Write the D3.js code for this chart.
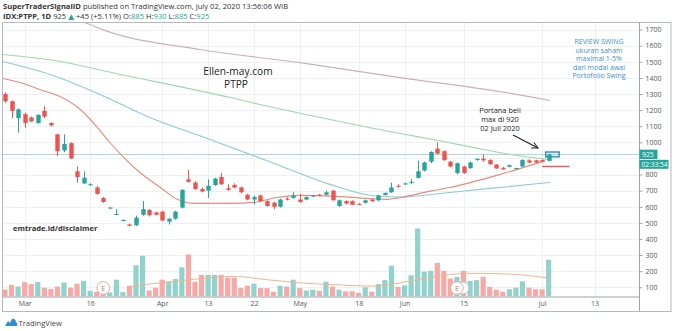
<!DOCTYPE html>
<html>
<head>
<meta charset="utf-8">
<script src="https://cdn.jsdelivr.net/npm/d3@7"></script>
<style>
  html, body { margin: 0; padding: 0; background: #fff; }
  svg { display: block; font-family: "Open Sans", "DejaVu Sans", sans-serif; }
</style>
</head>
<body>
<svg id="chart" width="675" height="331"></svg>
<script>
// ---- IDX:PTPP daily, 26 Feb – 2 Jul 2020 ----
const dates = [
  "Feb 26","Feb 27","Feb 28","Mar 2","Mar 3","Mar 4","Mar 5","Mar 6","Mar 9","Mar 10",
  "Mar 11","Mar 12","Mar 13","Mar 16","Mar 17","Mar 18","Mar 19","Mar 20","Mar 23","Mar 24",
  "Mar 26","Mar 27","Mar 30","Mar 31","Apr 1","Apr 2","Apr 3","Apr 6","Apr 7","Apr 8",
  "Apr 9","Apr 13","Apr 14","Apr 15","Apr 16","Apr 17","Apr 20","Apr 21","Apr 22","Apr 23",
  "Apr 24","Apr 27","Apr 28","Apr 29","Apr 30","May 4","May 5","May 6","May 8","May 11",
  "May 12","May 13","May 14","May 15","May 18","May 19","May 20","May 26","May 27","May 28",
  "May 29","Jun 2","Jun 3","Jun 4","Jun 5","Jun 8","Jun 9","Jun 10","Jun 11","Jun 12",
  "Jun 15","Jun 16","Jun 17","Jun 18","Jun 19","Jun 22","Jun 23","Jun 24","Jun 25","Jun 26",
  "Jun 29","Jun 30","Jul 1","Jul 2"
];
const opens  = [1300,1255,1150,1175,1155,1120,1195,1120,1050,950, 995,820,745,735,720,655,590,550,515,490,
                485,550,580,565,570,508,526,595,770,750, 710,700,735,785,715,735,720,675,645,670,
                635,625,600,650,655,645,645,665,675,675, 700,605,635,635,618,625,645,640,673,690,
                730,740,750,780,825,880,960,945,880,810, 850,840,890,898,890,862,842,848,836,850,
                888,888,890,885];
const highs  = [1310,1260,1210,1185,1160,1175,1225,1125,1050,1050, 1000,850,820,745,730,660,600,585,522,495,
                545,635,585,570,575,530,575,710,830,760, 720,770,780,810,740,745,725,680,670,675,
                640,630,650,660,690,680,665,675,680,700, 705,645,640,640,622,645,650,675,690,750,
                740,750,770,885,880,945,1000,950,885,875, 855,880,900,925,895,865,848,862,842,895,
                895,892,895,930];
const lows   = [1245,1150,1060,1090,1125,1115,1150,1100,915,940, 895,750,740,730,675,625,585,550,510,478,
                480,545,540,548,510,490,520,590,750,705, 690,655,730,735,700,715,685,640,615,630,
                600,585,595,640,650,625,640,660,665,670, 640,600,615,610,610,620,630,635,670,685,
                720,735,740,775,820,870,925,885,845,800, 805,835,885,880,860,835,830,845,830,848,
                870,872,875,885];
const closes = [1255,1195,1205,1120,1130,1170,1160,1105,945,990, 900,785,780,740,680,630,595,555,518,482,
                532,585,548,550,515,526,570,705,755,710, 695,730,775,740,705,720,690,645,660,635,
                605,600,645,645,670,630,660,670,668,690, 640,640,620,612,615,640,635,670,685,720,
                726,745,755,820,875,940,930,890,850,870, 810,875,898,888,865,838,832,858,840,890,
                874,874,880,925];
// volume, millions of shares
const volumes = [17,29,25,36,31,36,22,19,25,35, 22,32,39,14,12,8,10,42,11,27,
                 78,102,15,22,42,37,44,73,105,37, 54,54,54,54,47,47,21,27,32,21,
                 21,12,27,25,42,21,15,17,14,37, 25,17,13,13,9,23,12,31,41,77,
                 24,28,53,170,62,64,84,64,45,49, 64,39,41,49,24,17,12,18,22,38,
                 22,18,18,92];
// moving averages read at selected sessions: [session index, value]
const ma20  = [[-0.3,1396],[2.3,1371],[5.3,1328],[8.4,1284],[11.5,1204],[14,1098],[16,999],[18,912],
               [20.6,813],[23.7,720],[26.3,646],[28.7,621],[34.4,621],[37.9,627],[41.5,658],[45,671],
               [50,666],[55.3,652],[58.3,646],[61.4,666],[64.9,697],[67.9,720],[75.6,801],[82.4,885]];
const ma50  = [[-0.3,1500],[6.9,1421],[14.5,1297],[22.1,1154],[31.3,1018],[41.5,863],[49.6,739],
               [56.2,668],[60.3,660],[67.9,689],[75.6,720],[83.2,751]];
const ma100 = [[-0.3,1545],[8.4,1502],[17.6,1421],[23.7,1371],[34.4,1278],[38.9,1235],[49.6,1142],
               [60.3,1055],[65.3,1018],[73,956],[77.1,925],[82.9,894]];
const ma200 = [[6,1800],[13,1731],[14.5,1706],[29.8,1576],[45,1495],[60.3,1402],[75.6,1315],[83.2,1260]];
const volMa = [[19,25],[27,40],[35,50],[40,42],[46,33],[51,29],[56,26],[60,33],[65,48],[71,58],[77,56],[83,46]];

// 900 sits under the last-price tag and is not labelled
const priceTicks = [100,200,300,400,500,600,700,800,1000,1100,1200,1300,1400,1500,1600,1700];
const gridLevels = d3.range(100, 1701, 100);
const timeTicks = [[3,"Mar"],[13,"16"],[24,"Apr"],[31,"13"],[38,"22"],[45,"May"],[54,"18"],
                   [61,"Jun"],[70,"15"],[82,"Jul"],[90,"13"]];
const lastPrice = 925;
const stopLevel = 850;
const earnings = [15, 69];

const reviewNote = ["REVIEW SWING","ukuran saham","maximal 1-5%","dari modal awal","Portofolio Swing"];
const buyNote = ["Portana beli","max di 920","02 Juli 2020"];

// ---- layout ----
const svg = d3.select("#chart");
const L = 3, R = 639, T = 22, B = 296.5, OUTR = 671, OUTB = 311;
const UP = "#26a69a", DOWN = "#ef5350";
const UPV = "#92d2cc", DOWNV = "#f7a9a7";

const x = d3.scaleLinear().domain([0, 83]).range([5, 548.65]);
const y = d3.scaleLinear().domain([100, 1700]).range([287.3, 29.6]);
const yv = d3.scaleLinear().domain([0, 250]).range([B, B - 100]);

svg.append("defs").append("clipPath").attr("id", "pane")
  .append("rect").attr("x", L).attr("y", T).attr("width", R - L).attr("height", B - T);

// header
const hdr = svg.append("g").attr("font-size", 7.6).attr("fill", "#333");
const h1 = hdr.append("text").attr("x", 3).attr("y", 9);
h1.append("tspan").attr("font-weight", 700).text("SuperTraderSignalID");
h1.append("tspan").text(" published on TradingView.com, July 02, 2020 13:56:06 WIB");
const h2 = hdr.append("text").attr("x", 3).attr("y", 18.5);
h2.append("tspan").attr("font-weight", 700).text("IDX:PTPP, 1D");
h2.append("tspan").text(" 925 ");
h2.append("tspan").attr("fill", UP).text("▲");
h2.append("tspan").text(" +45 (+5.11%) O:");
h2.append("tspan").attr("fill", UP).text("885");
h2.append("tspan").text(" H:");
h2.append("tspan").attr("fill", UP).text("930");
h2.append("tspan").text(" L:");
h2.append("tspan").attr("fill", UP).text("885");
h2.append("tspan").text(" C:");
h2.append("tspan").attr("fill", UP).text("925");

// grid
const grid = svg.append("g").attr("stroke", "#eef0f3").attr("stroke-width", 1);
grid.selectAll("line.h").data(gridLevels).join("line")
  .attr("x1", L).attr("x2", R).attr("y1", d => Math.round(y(d)) + 0.5).attr("y2", d => Math.round(y(d)) + 0.5);
grid.selectAll("line.v").data(timeTicks).join("line")
  .attr("y1", T).attr("y2", B).attr("x1", d => Math.round(x(d[0])) + 0.5).attr("x2", d => Math.round(x(d[0])) + 0.5);

const pane = svg.append("g").attr("clip-path", "url(#pane)");

// volume
pane.append("g").selectAll("rect").data(volumes).join("rect")
  .attr("x", (d, i) => x(i) - 2.6).attr("width", 5.2)
  .attr("y", d => yv(d)).attr("height", d => B - yv(d))
  .attr("fill", (d, i) => closes[i] >= opens[i] ? UPV : DOWNV);

const line = d3.line().x(d => x(d[0])).curve(d3.curveMonotoneX);
pane.append("path").datum(volMa).attr("fill", "none").attr("stroke", "#f2b48c").attr("stroke-width", 1)
  .attr("d", line.y(d => yv(d[1])));

// last price line
pane.append("line").attr("x1", L).attr("x2", R)
  .attr("y1", y(lastPrice)).attr("y2", y(lastPrice))
  .attr("stroke", "#a9d6d1").attr("stroke-width", 1);

// moving averages
const maLine = d3.line().x(d => x(d[0])).y(d => y(d[1])).curve(d3.curveMonotoneX);
[[ma200, "#cdb0b4"], [ma100, "#9fd8a8"], [ma50, "#8ccbd2"], [ma20, "#e88a7c"]].forEach(([d, c]) => {
  pane.append("path").datum(d).attr("fill", "none").attr("stroke", c).attr("stroke-width", 1.1).attr("d", maLine);
});

// candles
const idx = d3.range(dates.length);
const cg = pane.append("g");
cg.selectAll("line").data(idx).join("line")
  .attr("x1", i => Math.round(x(i)) + 0.5).attr("x2", i => Math.round(x(i)) + 0.5)
  .attr("y1", i => y(highs[i])).attr("y2", i => y(lows[i]))
  .attr("stroke", i => closes[i] >= opens[i] ? UP : DOWN).attr("stroke-width", 1);
cg.selectAll("rect").data(idx).join("rect")
  .attr("x", i => Math.round(x(i)) + 0.5 - 2.2).attr("width", 4.4)
  .attr("y", i => y(Math.max(opens[i], closes[i])))
  .attr("height", i => Math.max(1, Math.abs(y(opens[i]) - y(closes[i]))))
  .attr("fill", i => closes[i] >= opens[i] ? UP : DOWN);

// drawings: entry box, stop level, arrow
pane.append("rect").attr("x", x(82.55)).attr("y", y(940))
  .attr("width", x(84.6) - x(82.55)).attr("height", y(910) - y(940))
  .attr("fill", "rgba(33,150,243,0.08)").attr("stroke", "#2a8fb8").attr("stroke-width", 1.4);
pane.append("line").attr("x1", x(82)).attr("x2", x(86.2))
  .attr("y1", y(stopLevel)).attr("y2", y(stopLevel))
  .attr("stroke", "#e0605c").attr("stroke-width", 1.5);

svg.append("defs").append("marker").attr("id", "arr").attr("viewBox", "0 0 10 10")
  .attr("refX", 9).attr("refY", 5).attr("markerWidth", 7).attr("markerHeight", 7).attr("orient", "auto")
  .append("path").attr("d", "M1,1 L9,5 L1,9").attr("fill", "none").attr("stroke", "#222").attr("stroke-width", 1.3);
svg.append("line").attr("x1", 513).attr("y1", 135).attr("x2", 538).attr("y2", 148)
  .attr("stroke", "#222").attr("stroke-width", 1.1).attr("marker-end", "url(#arr)");

// earnings markers
const eg = svg.append("g");
eg.append("circle").attr("cx", x(earnings[1]) + 6).attr("cy", 288).attr("r", 6)
  .attr("fill", "#fff").attr("stroke", "#b8c4d0");
earnings.forEach(i => {
  eg.append("circle").attr("cx", x(i)).attr("cy", 288).attr("r", 6.3)
    .attr("fill", "#fff").attr("stroke", "#d9b0a0").attr("stroke-width", 1);
  eg.append("text").attr("x", x(i)).attr("y", 290.6).attr("text-anchor", "middle")
    .attr("font-size", 7).attr("fill", "#c07860").text("E");
});

// annotations
svg.append("text").attr("x", 238).attr("y", 75).attr("text-anchor", "middle")
  .attr("font-size", 10.2).attr("fill", "#222").text("Ellen-may.com");
svg.append("text").attr("x", 236).attr("y", 88).attr("text-anchor", "middle")
  .attr("font-size", 10.2).attr("fill", "#222").text("PTPP");
svg.append("text").attr("x", 13).attr("y", 231).attr("font-size", 7.6).attr("font-weight", 700)
  .attr("fill", "#333").text("emtrade.id/disclaimer");
svg.append("g").selectAll("text").data(reviewNote).join("text")
  .attr("x", 599).attr("y", (d, i) => 44 + i * 8.6).attr("text-anchor", "middle")
  .attr("font-size", 7).attr("fill", "#3d8fd0").text(d => d);
svg.append("g").selectAll("text").data(buyNote).join("text")
  .attr("x", 500).attr("y", (d, i) => 113 + i * 9).attr("text-anchor", "middle")
  .attr("font-size", 7.4).attr("fill", "#222").text(d => d);

// frame and axes
const fr = svg.append("g").attr("stroke", "#b4b8bf").attr("fill", "none").attr("stroke-width", 1);
fr.append("rect").attr("x", L - 0.5).attr("y", T + 0.5).attr("width", OUTR - L + 0.5).attr("height", OUTB - T);
fr.append("line").attr("x1", L).attr("x2", R).attr("y1", B + 0.5).attr("y2", B + 0.5).attr("stroke", "#9ea3aa");
fr.append("line").attr("x1", R + 0.5).attr("x2", R + 0.5).attr("y1", T).attr("y2", OUTB).attr("stroke", "#9ea3aa");

const yAxis = d3.axisRight(y).tickValues(priceTicks).tickFormat(d3.format("d")).tickSize(3).tickPadding(3);
const ya = svg.append("g").attr("transform", `translate(${R + 0.5},0)`).call(yAxis);
ya.select(".domain").remove();
ya.selectAll("line").attr("stroke", "#9ea3aa");
ya.selectAll("text").attr("font-size", 7).attr("fill", "#555").attr("font-family", "Open Sans, sans-serif");

const xAxis = d3.axisBottom(x).tickValues(timeTicks.map(d => d[0]))
  .tickFormat((d, i) => timeTicks[i][1]).tickSize(0).tickPadding(4);
const xa = svg.append("g").attr("transform", `translate(0,${B + 0.5})`).call(xAxis);
xa.select(".domain").remove();
xa.selectAll("text").attr("font-size", 7).attr("fill", "#555").attr("font-family", "Open Sans, sans-serif");

// last price and countdown tags
const yl = y(lastPrice);
svg.append("rect").attr("x", R + 0.5).attr("y", yl - 4.8).attr("width", 18).attr("height", 9.4).attr("fill", UP);
svg.append("text").attr("x", R + 3).attr("y", yl + 2.3).attr("font-size", 6.8).attr("fill", "#fff").text(lastPrice);
svg.append("rect").attr("x", R + 0.5).attr("y", yl + 5.4).attr("width", 29).attr("height", 9).attr("fill", UP);
svg.append("text").attr("x", R + 2.5).attr("y", yl + 12.4).attr("font-size", 6.6).attr("fill", "#fff").text("02:33:54");

// footer brand
const ft = svg.append("g");
ft.append("path").attr("d", "M5,326 L8,321 L10,323 L12,319 Q15,318 16,322 Q18,323 17,326 Z").attr("fill", "#2e8fd6");
ft.append("text").attr("x", 18.5).attr("y", 325.5).attr("font-size", 7.6).attr("fill", "#444").text("TradingView");
</script>
</body>
</html>
